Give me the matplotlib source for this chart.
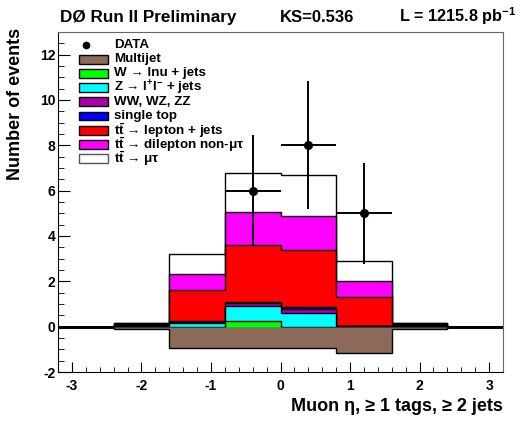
import matplotlib
matplotlib.use("Agg")
import matplotlib.pyplot as plt
import matplotlib.patches as patches
import numpy as np
from matplotlib.ticker import MultipleLocator

plt.rcParams["font.family"] = ["Liberation Sans", "DejaVu Sans"]
plt.rcParams["font.weight"] = "bold"
plt.rcParams["axes.unicode_minus"] = False
plt.rcParams["mathtext.fontset"] = "custom"
plt.rcParams["mathtext.rm"] = "Liberation Sans:bold"
plt.rcParams["mathtext.bf"] = "Liberation Sans:bold"
plt.rcParams["mathtext.it"] = "Liberation Sans:bold"

# bins in muon eta
edges = [-3.2, -2.4, -1.6, -0.8, 0.0, 0.8, 1.6, 2.4, 3.2]

# per-sample contributions (stacked, bottom to top)
multijet = [0, -0.12, -0.93, -0.96, -0.95, -1.18, -0.12, 0]
wjets = [0, 0, 0, 0.24, 0, 0, 0, 0]
zjets = [0, 0.02, 0.15, 0.68, 0.62, 0.02, 0.02, 0]
diboson = [0, 0.04, 0.05, 0.12, 0.15, 0.01, 0.04, 0]
single_top = [0, 0.02, 0.05, 0.07, 0.08, 0.01, 0.02, 0]
tt_ljets = [0, 0.04, 1.37, 2.49, 2.54, 1.29, 0.04, 0]
tt_dilep = [0, 0.02, 0.71, 1.48, 1.51, 0.70, 0.02, 0]
tt_mutau = [0, 0.02, 0.89, 1.71, 1.77, 0.87, 0.02, 0]

# data
data_x = [-0.4, 0.4, 1.2]
data_y = [6, 8, 5]
data_err = [2.45, 2.83, 2.24]
data_xerr = [0.4, 0.4, 0.4]

labels = ["Multijet", "W → lnu + jets", r"Z → l$^{+}$l$^{-}$ + jets",
          "WW, WZ, ZZ", "single top", r"t$\bar{\mathrm{t}}$ → lepton + jets",
          r"t$\bar{\mathrm{t}}$ → dilepton non-μτ", r"t$\bar{\mathrm{t}}$ → μτ"]
colors = ["#8b6a5a", "#00ff00", "#00ffff", "#aa00aa", "#0000ff", "#ff0000", "#ff00ff", "white"]

fig = plt.figure(figsize=(5.22, 4.25), dpi=100)
ax = fig.add_axes([58 / 522, 53 / 425, 445 / 522, 340 / 425])
ax.set_xlim(-3.2, 3.2)
ax.set_ylim(-2, 13)

# zero line (empty data bins)
ax.axhline(0, color="black", lw=2, zorder=1)

positive = [wjets, zjets, diboson, single_top, tt_ljets, tt_dilep, tt_mutau]
tops = np.cumsum(np.array(positive), axis=0)
# draw from back (largest) to front
for i in range(len(positive) - 1, -1, -1):
    ax.stairs(tops[i], edges, baseline=0, fill=True, facecolor=colors[i + 1],
              edgecolor="black", lw=1, zorder=2)
ax.stairs(multijet, edges, baseline=0, fill=True, facecolor=colors[0],
          edgecolor="black", lw=1, zorder=2)

ax.errorbar(data_x, data_y, yerr=data_err, xerr=data_xerr, fmt="o", color="black",
            ms=5.5, lw=1.4, capsize=0, zorder=5)

# legend drawn by hand (ROOT style)
ytop = (372 - 45) / 340
step = 14.2 / 340
ax.plot([0.062], [ytop], "o", color="black", ms=4.5, transform=ax.transAxes, clip_on=False)
ax.text(0.126, ytop, "DATA", transform=ax.transAxes, va="center", fontsize=9.6)
for i, (lab, col) in enumerate(zip(labels, colors)):
    yc = ytop - (i + 1) * step
    ax.add_patch(patches.Rectangle((0.048, yc - 0.013), 0.064, 0.026, facecolor=col,
                                   edgecolor="#555555" if col == "white" else "black",
                                   lw=1, transform=ax.transAxes))
    ax.text(0.126, yc, lab, transform=ax.transAxes, va="center", fontsize=9.6)

ax.xaxis.set_major_locator(MultipleLocator(1))
ax.xaxis.set_minor_locator(MultipleLocator(0.2))
ax.yaxis.set_major_locator(MultipleLocator(2))
ax.yaxis.set_minor_locator(MultipleLocator(0.5))
ax.tick_params(which="both", direction="in", top=False, right=False, labelsize=10)
ax.tick_params(axis="y", which="major", length=8.5, pad=2)
ax.tick_params(axis="y", which="minor", length=4.3)
ax.tick_params(axis="x", which="major", length=7.2, pad=5)
ax.tick_params(axis="x", which="minor", length=3.6)
for lab in ax.get_xticklabels() + ax.get_yticklabels():
    lab.set_fontweight("bold")
for s in ["top", "right"]:
    ax.spines[s].set_color("#666666")

ax.set_xlabel("Muon η, ≥ 1 tags, ≥ 2 jets", fontsize=13, fontweight="bold", loc="right")
ax.set_ylabel("Number of events", fontsize=13, fontweight="bold", loc="top")
ax.xaxis.set_label_coords(1.0, -0.076)
ax.yaxis.set_label_coords(-0.076, 1.012)

fig.text(60 / 522, 1 - 21.7 / 425, "DØ Run II Preliminary", fontsize=12.3,
         fontweight="bold", va="baseline")
fig.text(280 / 522, 1 - 21.7 / 425, "KS=0.536", fontsize=12,
         fontweight="bold", va="baseline")
fig.text(516 / 522, 1 - 21.7 / 425, r"L = 1215.8 pb$^{-1}$", fontsize=11.7,
         fontweight="bold", va="baseline", ha="right")

fig.savefig("out.png", dpi=100)
